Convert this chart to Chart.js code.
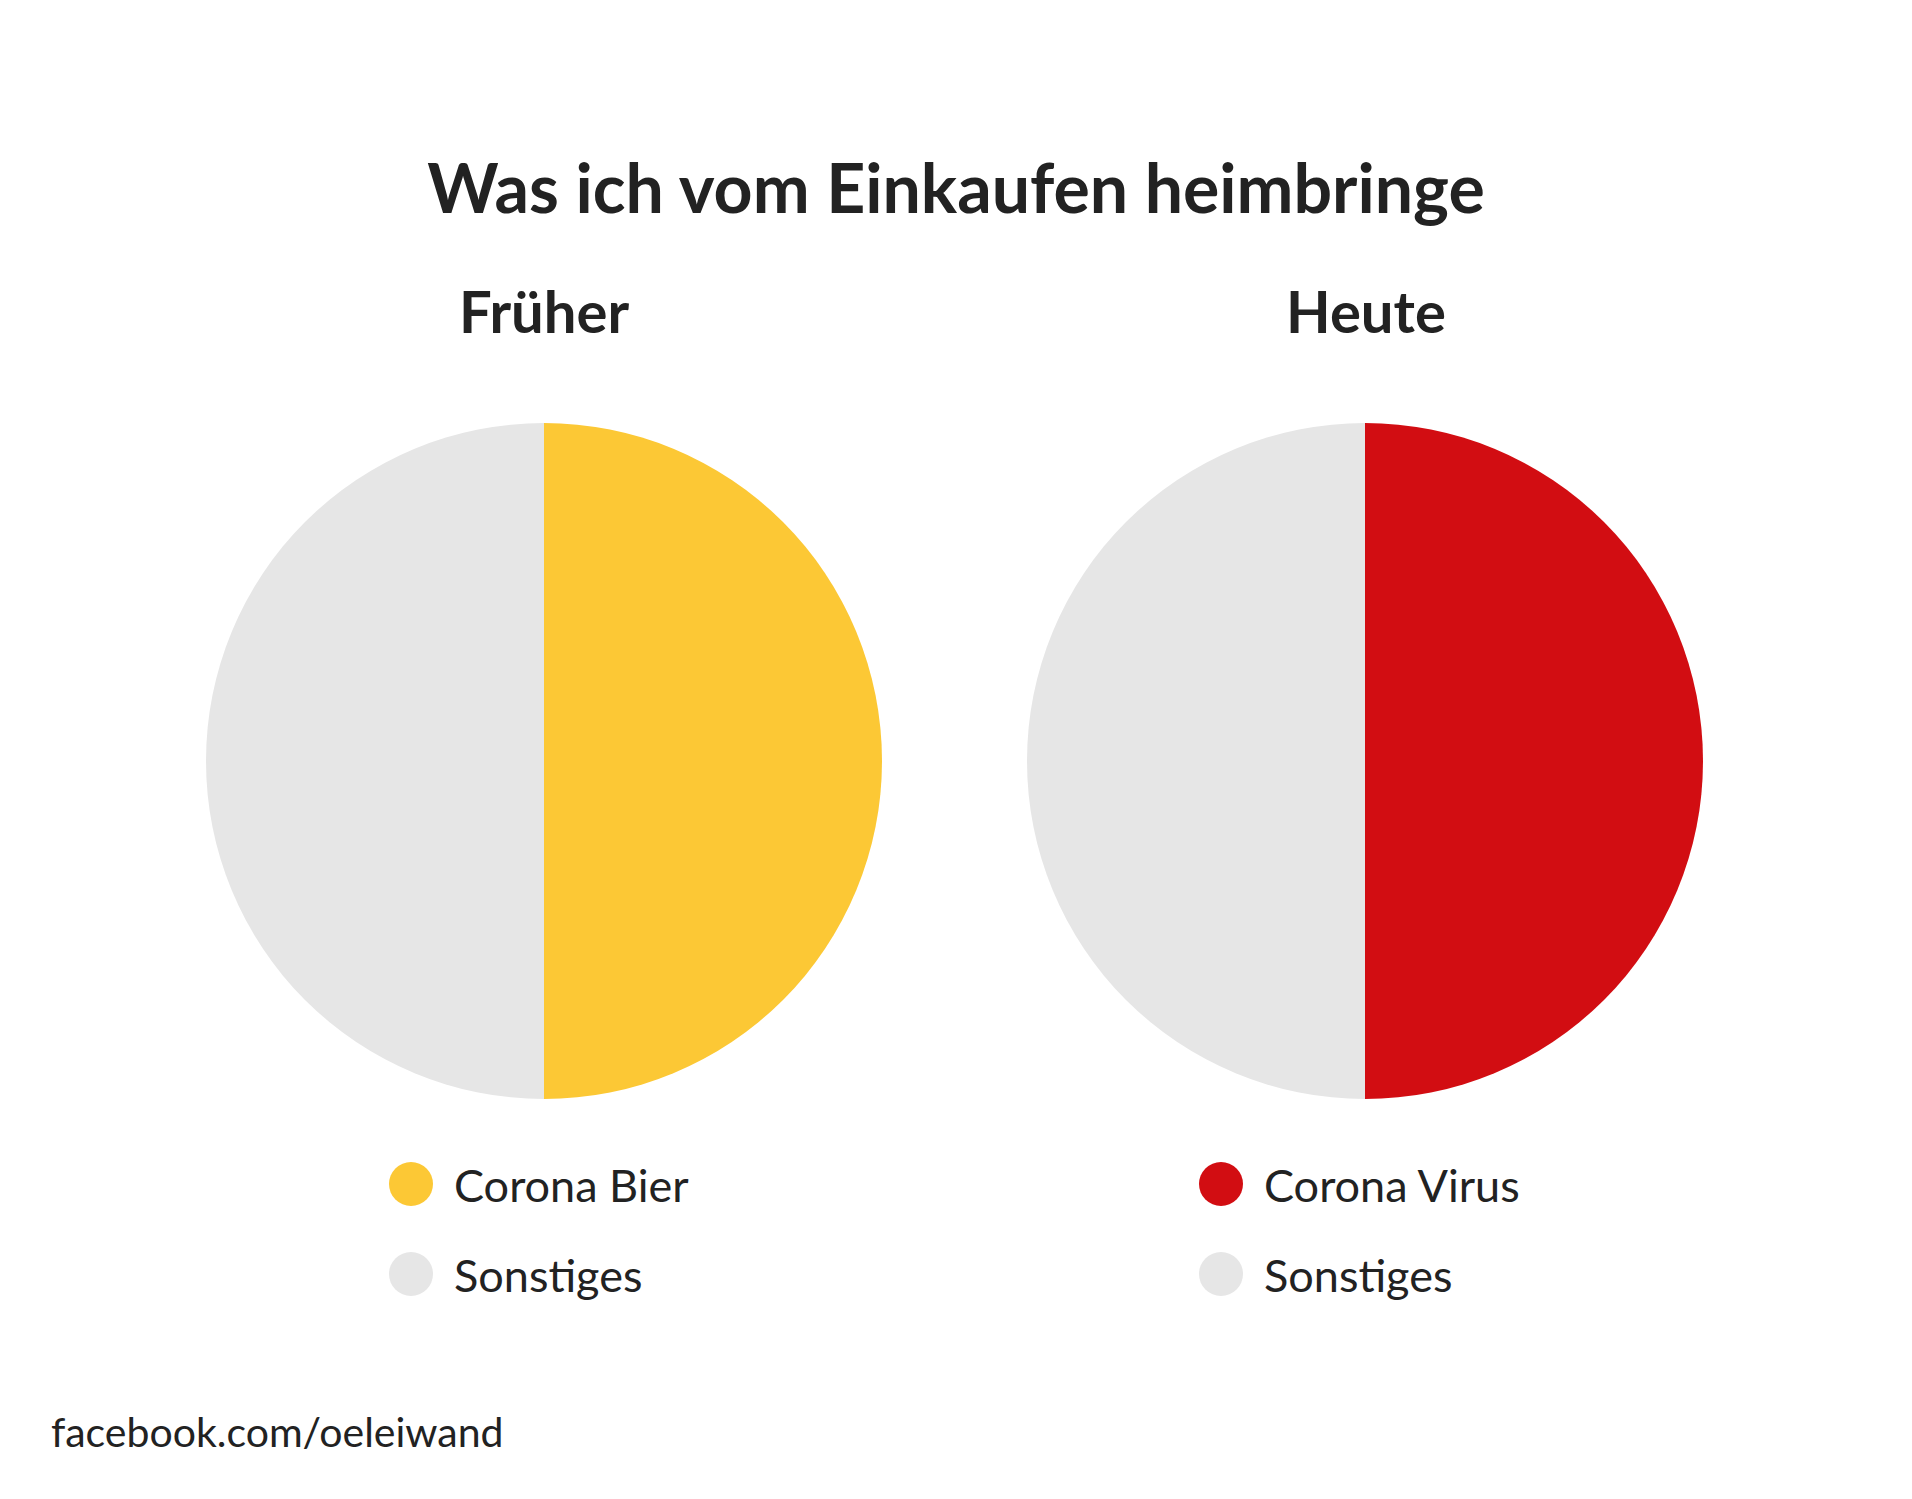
<!DOCTYPE html>
<html>
<head>
<meta charset="utf-8">
<script src="https://cdn.jsdelivr.net/npm/chart.js@4/dist/chart.umd.min.js"></script>
<style>
  html, body { margin: 0; padding: 0; background: #fff; }
  body { width: 1912px; height: 1499px; position: relative; overflow: hidden; font-family: Lato, "Open Sans", sans-serif; color: #222; }
  .t { position: absolute; white-space: nowrap; line-height: 1; }
  .title { font-weight: 700; font-size: 68px; left: 0; width: 1912px; text-align: center; top: 153px; }
  .sub { font-weight: 700; font-size: 58px; width: 600px; text-align: center; top: 282px; }
  .pie { position: absolute; width: 676px; height: 676px; top: 423px; }
  .leg { position: absolute; font-size: 45px; line-height: 1; }
  .leg .row { position: absolute; white-space: nowrap; left: 0; }
  .leg .dot { position: absolute; width: 44px; height: 44px; border-radius: 50%; left: 0; }
  .leg .lab { position: absolute; }
  .foot { font-size: 41px; left: 51px; top: 1411px; }
</style>
</head>
<body>
<div class="t title" id="title"></div>
<div class="t sub" id="sub0" style="left:244px"></div>
<div class="t sub" id="sub1" style="left:1066px"></div>
<div class="pie" style="left:206px"><canvas id="c0"></canvas></div>
<div class="pie" style="left:1027px"><canvas id="c1"></canvas></div>
<div class="leg" id="leg0" style="left:389px; top:1162px"></div>
<div class="leg" id="leg1" style="left:1199px; top:1162px"></div>
<div class="t foot" id="foot"></div>
<script>
const chartTitle = "Was ich vom Einkaufen heimbringe";
const panelTitles = ["Früher", "Heute"];
const labelsFrueher = ["Corona Bier", "Sonstiges"];
const labelsHeute = ["Corona Virus", "Sonstiges"];
const valuesFrueher = [50, 50];
const valuesHeute = [50, 50];
const colorsFrueher = ["#FCC835", "#E6E6E6"];
const colorsHeute = ["#D20D12", "#E6E6E6"];
const footer = "facebook.com/oeleiwand";

document.getElementById('title').textContent = chartTitle;
document.getElementById('sub0').textContent = panelTitles[0];
document.getElementById('sub1').textContent = panelTitles[1];
document.getElementById('foot').textContent = footer;

function makePie(id, labels, values, colors) {
  return new Chart(document.getElementById(id), {
    type: 'pie',
    data: { labels: labels, datasets: [{ data: values, backgroundColor: colors, borderWidth: 0, hoverOffset: 0 }] },
    options: {
      responsive: true, maintainAspectRatio: false, animation: false,
      layout: { padding: 0 },
      plugins: { legend: { display: false }, tooltip: { enabled: false }, title: { display: false } },
      events: []
    }
  });
}
function makeLegend(id, chart) {
  const el = document.getElementById(id);
  const items = chart.options.plugins.legend.labels.generateLabels(chart);
  items.forEach((it, i) => {
    const row = document.createElement('div');
    row.className = 'row';
    row.style.top = (i * 90) + 'px';
    const dot = document.createElement('span');
    dot.className = 'dot';
    dot.style.background = it.fillStyle;
    dot.style.top = '0px';
    const lab = document.createElement('span');
    lab.className = 'lab';
    lab.textContent = it.text;
    lab.style.top = '1px';
    lab.style.left = '65px';
    row.appendChild(dot); row.appendChild(lab);
    el.appendChild(row);
  });
}
const c0 = makePie('c0', labelsFrueher, valuesFrueher, colorsFrueher);
const c1 = makePie('c1', labelsHeute, valuesHeute, colorsHeute);
makeLegend('leg0', c0);
makeLegend('leg1', c1);
</script>
</body>
</html>
